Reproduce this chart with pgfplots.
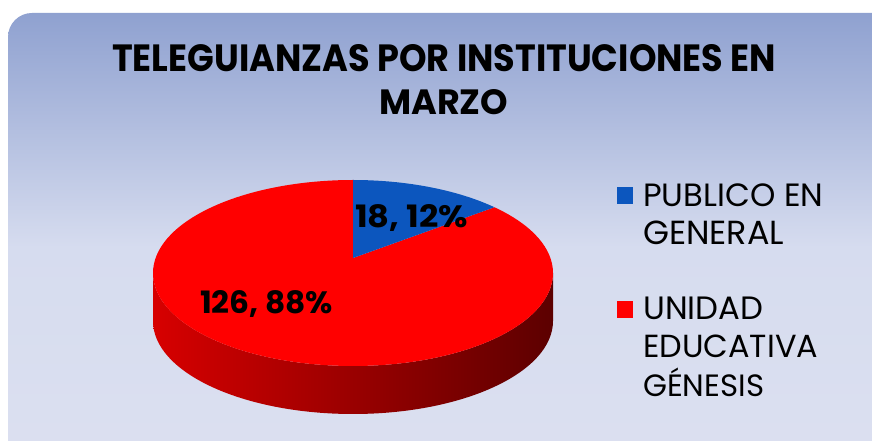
\documentclass[border=0pt]{standalone}
\usepackage{pgfplots}
\usepackage{pgfplotstable}
\pgfplotsset{compat=1.18}
\usetikzlibrary{calc}
\usepackage{fontspec}
\setmainfont{Poppins}
\definecolor{pieblue}{RGB}{12,86,190}
\definecolor{piered}{RGB}{255,0,0}
\definecolor{sideL}{RGB}{215,0,0}
\definecolor{sideR}{RGB}{92,0,0}
\definecolor{bgtop}{RGB}{143,161,208}
\definecolor{bgmid}{RGB}{214,220,239}
\definecolor{bgbot}{RGB}{220,224,240}
\pgfplotstableread{
label value
Publico 18
Unidad 126
}\pietable
\begin{document}
\begin{tikzpicture}
\pgfplotstablegetelem{0}{value}\of\pietable \let\va\pgfplotsretval
\pgfplotstablegetelem{1}{value}\of\pietable \let\vb\pgfplotsretval
\pgfmathsetmacro{\tot}{\va+\vb}
\pgfmathsetmacro{\angA}{90-360*\va/\tot}
\begin{axis}[name=ax, hide axis, scale only axis, width=872bp, height=441bp,
  xmin=0, xmax=872, ymin=0, ymax=441, enlargelimits=false, clip=true]
% background
\fill[white] (axis cs:0,0) rectangle (axis cs:872,441);
\shade[top color=bgtop, bottom color=bgbot, middle color=bgmid, rounded corners=24bp]
  (axis cs:8,-40) rectangle (axis cs:910,428);
% pie side
\shade[left color=sideL, right color=sideR]
  (axis cs:153,168) arc[start angle=180, end angle=360, x radius=200bp, y radius=93bp]
  -- ++(0,-48bp) arc[start angle=0, end angle=-180, x radius=200bp, y radius=93bp] -- cycle;
% red slice
\fill[piered] (axis cs:353,183) -- ($(axis cs:353,168)+(\angA:200bp and 93bp)$)
  arc[start angle=\angA, end angle=-270, x radius=200bp, y radius=93bp] -- cycle;
% blue slice
\fill[pieblue] (axis cs:353,183) -- (axis cs:353,261)
  arc[start angle=90, end angle=\angA, x radius=200bp, y radius=93bp] -- cycle;
% labels
\node[anchor=base west, inner sep=0] at (axis cs:355,213) {\resizebox{113bp}{23bp}{\bfseries 18, 12\%}};
\node[anchor=base west, inner sep=0] at (axis cs:200,127) {\resizebox{133bp}{23bp}{\bfseries 126, 88\%}};
% title
\node[anchor=base west, inner sep=0] at (axis cs:112,369.5) {\resizebox{664bp}{27bp}{\bfseries TELEGUIANZAS POR INSTITUCIONES EN}};
\node[anchor=base west, inner sep=0] at (axis cs:379,326) {\resizebox{129bp}{25bp}{\bfseries MARZO}};
% legend
\fill[pieblue] (axis cs:617,254) rectangle (axis cs:633,237);
\fill[piered] (axis cs:617,140) rectangle (axis cs:633,123);
\begin{scope}[every node/.style={anchor=base west, inner sep=0, font=\fontsize{30bp}{36bp}\selectfont}]
\node at (axis cs:643,234) {\resizebox{180bp}{!}{PUBLICO EN}};
\node at (axis cs:643,196) {\resizebox{141bp}{!}{GENERAL}};
\node at (axis cs:643,121) {\resizebox{120bp}{!}{UNIDAD}};
\node at (axis cs:643,83) {\resizebox{175bp}{!}{EDUCATIVA}};
\node at (axis cs:643,44) {\resizebox{121bp}{!}{GÉNESIS}};
\end{scope}
\end{axis}
\pgfresetboundingbox
\useasboundingbox (ax.south west) rectangle (ax.north east);
\end{tikzpicture}
\end{document}
